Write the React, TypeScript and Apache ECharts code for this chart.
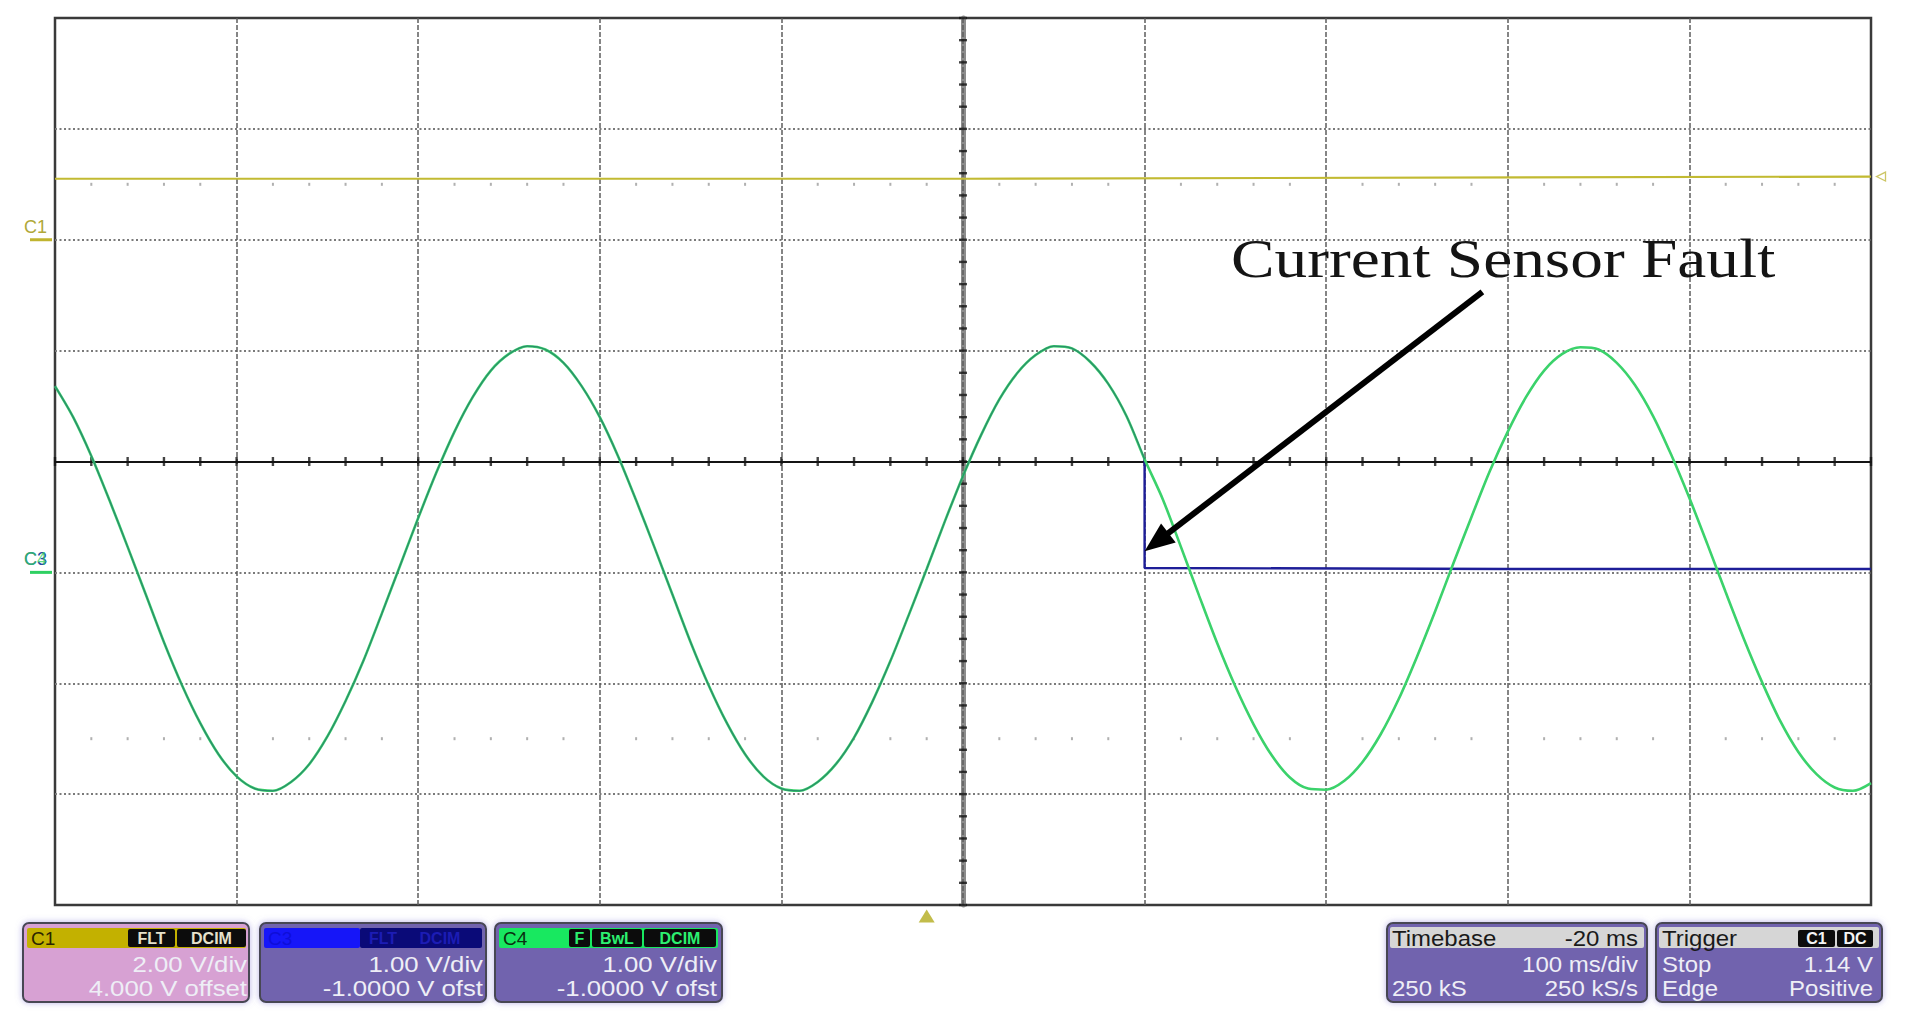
import React, { useEffect, useRef } from "react";
import * as echarts from "echarts";

// ---- screen / axis description (100 ms/div, 10 div wide, 8 div tall) ----
const X_MIN = -500;
const X_MAX = 500;
const X_DIV = 100;
const Y_MIN = -4;
const Y_MAX = 4;
const Y_DIV = 1;

// ---- C4 (green): measured phase current, in divisions, read every 10 ms ----
const GREEN_T = [
  -500, -490, -480, -470, -460, -450, -440, -430, -420, -410,
  -400, -390, -380, -370, -360, -350, -340, -330, -320, -310,
  -300, -290, -280, -270, -260, -250, -240, -230, -220, -210,
  -200, -190, -180, -170, -160, -150, -140, -130, -120, -110,
  -100, -90, -80, -70, -60, -50, -40, -30, -20, -10,
  0, 10, 20, 30, 40, 50, 60, 70, 80, 90,
  100, 110, 120, 130, 140, 150, 160, 170, 180, 190,
  200, 210, 220, 230, 240, 250, 260, 270, 280, 290,
  300, 310, 320, 330, 340, 350, 360, 370, 380, 390,
  400, 410, 420, 430, 440, 450, 460, 470, 480, 490,
  500,
];
const GREEN_V = [
  0.68, 0.4, 0.05, -0.35, -0.77, -1.2, -1.63, -2.02, -2.36, -2.64,
  -2.84, -2.95, -2.97, -2.89, -2.73, -2.48, -2.16, -1.79, -1.37, -0.94,
  -0.51, -0.1, 0.27, 0.58, 0.82, 0.97, 1.04, 1.01, 0.89, 0.68,
  0.4, 0.05, -0.35, -0.77, -1.2, -1.63, -2.02, -2.36, -2.64, -2.84,
  -2.95, -2.97, -2.89, -2.73, -2.49, -2.17, -1.8, -1.39, -0.97, -0.54,
  -0.13, 0.24, 0.56, 0.8, 0.96, 1.04, 1.02, 0.9, 0.7, 0.41,
  0.02, -0.34, -0.77, -1.21, -1.64, -2.03, -2.37, -2.65, -2.85, -2.95,
  -2.96, -2.88, -2.71, -2.46, -2.14, -1.76, -1.35, -0.92, -0.5, -0.09,
  0.27, 0.58, 0.82, 0.97, 1.03, 1.01, 0.89, 0.69, 0.41, 0.06,
  -0.33, -0.75, -1.18, -1.6, -1.99, -2.34, -2.62, -2.82, -2.94, -2.97,
  -2.9,
];

// ---- C3 (blue): sensor output, follows C4 until the fault ----
const FAULT_T = 100;
const BLUE_FAULT_T = [100, 100, 300, 500];
const BLUE_FAULT_V = [0.02, -0.96, -0.97, -0.97];

// ---- C1 (yellow) ----
const YELLOW_T = [-500, 0, 500];
const YELLOW_V = [2.55, 2.55, 2.57];

// channel offset markers (divisions)
const C1_OFFSET = 2;
const C4_OFFSET = -1;
const TRIGGER_T = -20;

// annotation arrow (data coordinates)
const ARROW_FROM = [286, 1.53];
const ARROW_TO = [100, -0.81];
const ANNOTATION = "Current Sensor Fault";

// panel texts
const CH1_TEXT = ["C1", "FLT", "DCIM", "2.00 V/div", "4.000 V offset"];
const CH3_TEXT = ["C3", "FLT", "DCIM", "1.00 V/div", "-1.0000 V ofst"];
const CH4_TEXT = ["C4", "F", "BwL", "DCIM", "1.00 V/div", "-1.0000 V ofst"];
const TB_TEXT = ["Timebase", "-20 ms", "100 ms/div", "250 kS", "250 kS/s"];
const TRIG_TEXT = ["Trigger", "C1", "DC", "Stop", "1.14 V", "Edge", "Positive"];

const GRID = { left: 55, top: 18, width: 1816, height: 887 };
const SANS = '"Liberation Sans", Arial, sans-serif';

function pts(t: number[], v: number[]) {
  return t.map((x, i) => [x, v[i]]);
}

function buildOption() {
  const green = pts(GREEN_T, GREEN_V);
  const bluePre = green.filter((p) => p[0] <= FAULT_T);
  const blueFault = pts(BLUE_FAULT_T, BLUE_FAULT_V);
  const yellow = pts(YELLOW_T, YELLOW_V);

  // graticule decorations (minor divisions = 1/5 div)
  const nx = ((X_MAX - X_MIN) / X_DIV) * 5;
  const ny = ((Y_MAX - Y_MIN) / Y_DIV) * 5;
  const xTicks: number[][] = [];
  const dotRows: number[][] = [];
  for (let i = 0; i <= nx; i++) {
    const t = X_MIN + (i * X_DIV) / 5;
    xTicks.push([t, 0]);
    if (i % 5 !== 0) {
      dotRows.push([t, 2.5]);
      dotRows.push([t, -2.5]);
    }
  }
  const yTicks: number[][] = [];
  for (let i = 0; i <= ny; i++) yTicks.push([0, Y_MIN + (i * Y_DIV) / 5]);

  const lineBase = {
    type: "line",
    symbol: "none",
    showSymbol: false,
    silent: true,
    emphasis: { disabled: true },
  };

  return {
    animation: false,
    backgroundColor: "#ffffff",
    grid: {
      ...GRID,
      show: true,
      backgroundColor: "#ffffff",
      borderColor: "#3a3a3a",
      borderWidth: 2.5,
    },
    xAxis: {
      type: "value",
      min: X_MIN,
      max: X_MAX,
      interval: X_DIV,
      z: 1,
      axisLabel: { show: false },
      axisTick: { show: false },
      axisLine: { show: true, onZero: true, lineStyle: { color: "#141414", width: 2 } },
      splitLine: {
        show: true,
        showMinLine: false,
        showMaxLine: false,
        lineStyle: { color: "#5e5e5e", width: 1.5, type: [5, 2] },
      },
    },
    yAxis: {
      type: "value",
      min: Y_MIN,
      max: Y_MAX,
      interval: Y_DIV,
      z: 0,
      axisLabel: { show: false },
      axisTick: { show: false },
      axisLine: { show: true, onZero: true, lineStyle: { color: "#8c8c8c", width: 5 } },
      splitLine: {
        show: true,
        showMinLine: false,
        showMaxLine: false,
        lineStyle: { color: "#7a7a7a", width: 2, type: [2, 2.5] },
      },
    },
    series: [
      {
        type: "scatter",
        data: dotRows,
        symbol: "rect",
        symbolSize: [2, 3],
        itemStyle: { color: "#9c9c9c" },
        silent: true,
        z: 2,
      },
      {
        type: "scatter",
        data: xTicks,
        symbol: "rect",
        symbolSize: [2.4, 9],
        itemStyle: { color: "#141414" },
        silent: true,
        z: 2,
      },
      {
        type: "scatter",
        data: yTicks,
        symbol: "rect",
        symbolSize: [8, 2.4],
        itemStyle: { color: "#141414" },
        silent: true,
        z: 2,
      },
      {
        ...lineBase,
        name: "C1",
        data: yellow,
        lineStyle: { color: "#c2ba32", width: 2.2 },
        z: 3,
      },
      {
        ...lineBase,
        name: "C3 fault",
        data: blueFault,
        lineStyle: { color: "#1e1e98", width: 2.4 },
        z: 3,
      },
      {
        ...lineBase,
        name: "C4",
        data: green,
        smooth: 0.3,
        lineStyle: { color: "#3bd26b", width: 2.6 },
        z: 4,
      },
      {
        ...lineBase,
        name: "C3",
        data: bluePre,
        smooth: 0.3,
        lineStyle: { color: "#12306e", width: 1.3, opacity: 0.42 },
        z: 5,
      },
      {
        type: "scatter",
        data: [[TRIGGER_T, Y_MIN]],
        symbol: "triangle",
        symbolSize: [16, 13],
        symbolOffset: [0, 11],
        itemStyle: { color: "#b3ab1d" },
        clip: false,
        silent: true,
        z: 10,
      },
      {
        type: "scatter",
        data: [[X_MAX, YELLOW_V[YELLOW_V.length - 1]]],
        symbol: "triangle",
        symbolRotate: 90,
        symbolSize: 9,
        symbolOffset: [10, 0],
        itemStyle: { color: "#ffffff", borderColor: "#c0b840", borderWidth: 1.3 },
        clip: false,
        silent: true,
        z: 10,
      },
    ],
  };
}

function txt(
  text: string,
  x: number,
  y: number,
  o: { align?: string; fill?: string; font?: string; scaleX?: number } = {}
) {
  return {
    type: "text",
    x,
    y,
    scaleX: o.scaleX ?? 1,
    z: 60,
    silent: true,
    style: {
      text,
      font: o.font ?? `22px ${SANS}`,
      fill: o.fill ?? "#eeeef6",
      align: o.align ?? "left",
      verticalAlign: "middle",
    },
  };
}

function rect(x: number, y: number, w: number, h: number, style: any, r = 2, z = 55) {
  return { type: "rect", shape: { x, y, width: w, height: h, r }, style, z, silent: true };
}

function panelBox(x: number, w: number, fill: string) {
  return rect(
    x,
    923,
    w,
    79,
    {
      fill,
      stroke: "#474752",
      lineWidth: 2,
      shadowBlur: 6,
      shadowColor: "rgba(130,120,210,0.55)",
    },
    6,
    50
  );
}

function buildGraphic(toPx: (p: number[]) => number[]) {
  const els: any[] = [];
  const black = { fill: "#0c0c0c" };
  const boxFont = `bold 16px ${SANS}`;
  const HY = 938;
  const R1 = 964;
  const R2 = 988;

  // ---- channel 1 panel ----
  els.push(panelBox(23, 226, "#d7a1d3"));
  els.push(rect(27, 928, 219, 20, { fill: "#c3b100" }));
  els.push(rect(128, 929, 47, 18, black));
  els.push(rect(177, 929, 69, 18, black));
  els.push(txt(CH1_TEXT[0], 31, HY, { fill: "#2b2500", font: `19px ${SANS}` }));
  els.push(txt(CH1_TEXT[1], 151.5, HY, { fill: "#e6e2cc", font: boxFont, align: "center" }));
  els.push(txt(CH1_TEXT[2], 211.5, HY, { fill: "#e6e2cc", font: boxFont, align: "center" }));
  els.push(txt(CH1_TEXT[3], 247, R1, { align: "right", scaleX: 1.17 }));
  els.push(txt(CH1_TEXT[4], 247, R2, { align: "right", scaleX: 1.17 }));

  // ---- channel 3 panel ----
  els.push(panelBox(260, 226, "#7163ae"));
  els.push(rect(264, 928, 96, 20, { fill: "#1616f8" }));
  els.push(rect(360, 928, 122, 20, { fill: "#0a0a78" }));
  els.push(txt(CH3_TEXT[0], 268, HY, { fill: "#0e0ed8", font: `19px ${SANS}` }));
  els.push(txt(CH3_TEXT[1], 383, HY, { fill: "#1c1cb4", font: boxFont, align: "center" }));
  els.push(txt(CH3_TEXT[2], 440, HY, { fill: "#1c1cb4", font: boxFont, align: "center" }));
  els.push(txt(CH3_TEXT[3], 483, R1, { align: "right", scaleX: 1.17 }));
  els.push(txt(CH3_TEXT[4], 483, R2, { align: "right", scaleX: 1.17 }));

  // ---- channel 4 panel ----
  els.push(panelBox(495, 227, "#7163ae"));
  els.push(rect(499, 928, 219, 20, { fill: "#18e860" }));
  els.push(rect(569, 929, 21, 18, black));
  els.push(rect(592, 929, 50, 18, black));
  els.push(rect(644, 929, 72, 18, black));
  els.push(txt(CH4_TEXT[0], 503, HY, { fill: "#0a3010", font: `19px ${SANS}` }));
  els.push(txt(CH4_TEXT[1], 579.5, HY, { fill: "#2cf070", font: boxFont, align: "center" }));
  els.push(txt(CH4_TEXT[2], 617, HY, { fill: "#2cf070", font: boxFont, align: "center" }));
  els.push(txt(CH4_TEXT[3], 680, HY, { fill: "#2cf070", font: boxFont, align: "center" }));
  els.push(txt(CH4_TEXT[4], 717, R1, { align: "right", scaleX: 1.17 }));
  els.push(txt(CH4_TEXT[5], 717, R2, { align: "right", scaleX: 1.17 }));

  // ---- timebase panel ----
  els.push(panelBox(1387, 260, "#7163ae"));
  els.push(rect(1390, 927, 254, 21, { fill: "#d6d6d6" }));
  els.push(txt(TB_TEXT[0], 1392, HY, { fill: "#1a1a1a", scaleX: 1.09 }));
  els.push(txt(TB_TEXT[1], 1638, HY, { fill: "#1a1a1a", align: "right", scaleX: 1.09 }));
  els.push(txt(TB_TEXT[2], 1638, R1, { align: "right", scaleX: 1.09 }));
  els.push(txt(TB_TEXT[3], 1392, R2, { scaleX: 1.09 }));
  els.push(txt(TB_TEXT[4], 1638, R2, { align: "right", scaleX: 1.09 }));

  // ---- trigger panel ----
  els.push(panelBox(1656, 226, "#7163ae"));
  els.push(rect(1659, 927, 220, 21, { fill: "#d6d6d6" }));
  els.push(rect(1798, 930, 37, 17, black));
  els.push(rect(1837, 930, 36, 17, black));
  els.push(txt(TRIG_TEXT[0], 1662, HY, { fill: "#1a1a1a", scaleX: 1.09 }));
  els.push(txt(TRIG_TEXT[1], 1816.5, HY, { fill: "#f4f4f4", font: boxFont, align: "center" }));
  els.push(txt(TRIG_TEXT[2], 1855, HY, { fill: "#f4f4f4", font: boxFont, align: "center" }));
  els.push(txt(TRIG_TEXT[3], 1662, R1, { scaleX: 1.09 }));
  els.push(txt(TRIG_TEXT[4], 1873, R1, { align: "right", scaleX: 1.09 }));
  els.push(txt(TRIG_TEXT[5], 1662, R2, { scaleX: 1.09 }));
  els.push(txt(TRIG_TEXT[6], 1873, R2, { align: "right", scaleX: 1.09 }));

  // ---- channel ground markers at left of graticule ----
  const c1y = toPx([X_MIN, C1_OFFSET])[1];
  const c4y = toPx([X_MIN, C4_OFFSET])[1];
  els.push(rect(30, c1y - 1.5, 22, 3, { fill: "#c0b430" }, 0));
  els.push(txt(CH1_TEXT[0], 24, c1y - 13, { fill: "#b0a838", font: `18px ${SANS}` }));
  els.push(rect(30, c4y - 1.5, 22, 3, { fill: "#2fd062" }, 0));
  els.push(txt(CH3_TEXT[0], 24, c4y - 13, { fill: "#2a4aa8", font: `18px ${SANS}` }));
  els.push(txt(CH4_TEXT[0], 24, c4y - 13, { fill: "rgba(48,208,96,0.75)", font: `18px ${SANS}` }));

  // ---- annotation arrow ----
  const a = toPx(ARROW_FROM);
  const b = toPx(ARROW_TO);
  const dx = b[0] - a[0];
  const dy = b[1] - a[1];
  const len = Math.hypot(dx, dy);
  const ux = dx / len;
  const uy = dy / len;
  const headLen = 30;
  const headW = 12;
  const bx = b[0] - ux * headLen;
  const by = b[1] - uy * headLen;
  els.push({
    type: "line",
    z: 70,
    silent: true,
    shape: { x1: a[0], y1: a[1], x2: bx + ux * 3, y2: by + uy * 3 },
    style: { stroke: "#000000", lineWidth: 6 },
  });
  els.push({
    type: "polygon",
    z: 70,
    silent: true,
    shape: {
      points: [
        [b[0], b[1]],
        [bx - uy * headW, by + ux * headW],
        [bx + uy * headW, by - ux * headW],
      ],
    },
    style: { fill: "#000000" },
  });

  els.push({
    type: "text",
    x: 1231,
    y: 259,
    scaleX: 1.21,
    z: 70,
    silent: true,
    style: {
      text: ANNOTATION,
      font: `54px "Liberation Serif", "Times New Roman", serif`,
      fill: "#141414",
      align: "left",
      verticalAlign: "middle",
    },
  });

  return els;
}

export default function App() {
  const ref = useRef<HTMLDivElement>(null);
  useEffect(() => {
    const el = ref.current;
    if (!el) return;
    const chart = echarts.init(el, undefined, { renderer: "svg" });
    chart.setOption(buildOption() as any);
    const toPx = (p: number[]) => chart.convertToPixel({ gridIndex: 0 }, p) as number[];
    chart.setOption({ graphic: buildGraphic(toPx) } as any);
    return () => chart.dispose();
  }, []);
  return (
    <div
      ref={ref}
      style={{ position: "fixed", left: 0, top: 0, width: 1906, height: 1027, background: "#fff" }}
    />
  );
}
